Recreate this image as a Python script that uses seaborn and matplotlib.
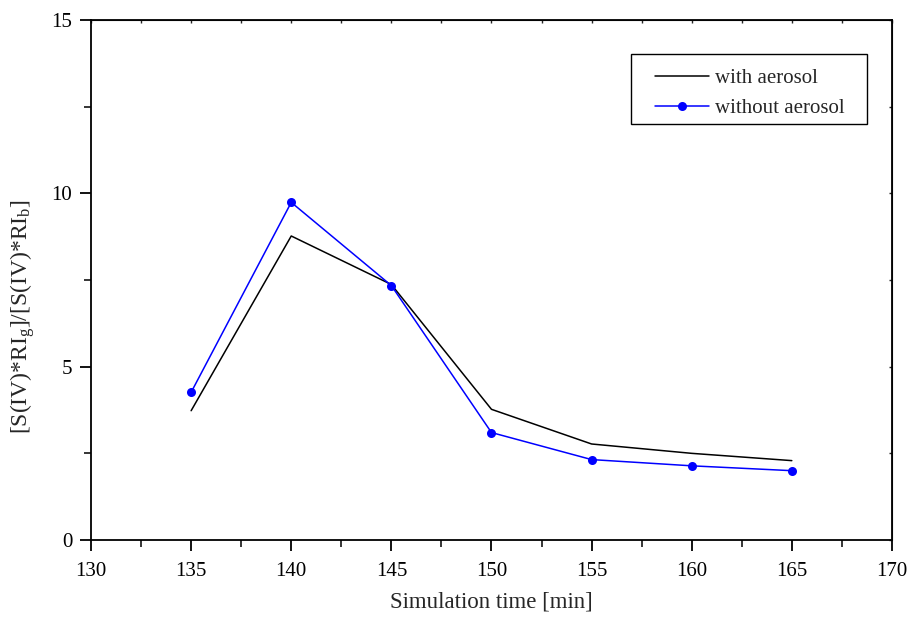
import numpy as np
import pandas as pd
import matplotlib
matplotlib.use('Agg')
import matplotlib.pyplot as plt
import matplotlib.patches as patches
import seaborn as sns
from matplotlib.ticker import MultipleLocator

# dados
tempo = [135, 140, 145, 150, 155, 160, 165]
com_aerossol = [3.73, 8.77, 7.37, 3.77, 2.77, 2.50, 2.29]
sem_aerossol = [4.26, 9.74, 7.34, 3.10, 2.32, 2.14, 2.00]

sns.set_style('ticks')
plt.rcParams['font.family'] = ['Liberation Serif', 'DejaVu Serif']
plt.rcParams['mathtext.fontset'] = 'custom'
plt.rcParams['mathtext.rm'] = 'Liberation Serif'
plt.rcParams['mathtext.it'] = 'Liberation Serif:italic'

fig = plt.figure(figsize=(9.12, 6.18), dpi=100)
ax = fig.add_axes([0.0998, 0.1262, 0.8782, 0.8414])

df = pd.DataFrame({'t': tempo, 'com': com_aerossol, 'sem': sem_aerossol})
sns.lineplot(data=df, x='t', y='com', ax=ax, color='black', lw=1.1,
             label='with aerosol')
sns.lineplot(data=df, x='t', y='sem', ax=ax, color='#0000ff', lw=1.1,
             marker='o', markersize=6.5, markeredgewidth=0, label='without aerosol')

ax.set_xlim(130, 170)
ax.set_ylim(0, 15)
ax.xaxis.set_major_locator(MultipleLocator(5))
ax.xaxis.set_minor_locator(MultipleLocator(2.5))
ax.yaxis.set_major_locator(MultipleLocator(5))
ax.yaxis.set_minor_locator(MultipleLocator(2.5))
ax.tick_params(which='major', direction='out', length=8, width=1.3, labelsize=15, colors='black')
ax.tick_params(which='minor', direction='out', length=5, width=1.3)
ax.tick_params(axis='x', which='major', pad=7.5)
ax.tick_params(axis='y', which='major', pad=5.5)

for s in ax.spines.values():
    s.set_visible(True)
    s.set_linewidth(1.3)
    s.set_color('black')

# ticks pequenos para dentro no topo e a direita
top = ax.secondary_xaxis('top')
top.xaxis.set_major_locator(MultipleLocator(5))
top.xaxis.set_minor_locator(MultipleLocator(2.5))
top.tick_params(which='both', direction='in', length=2, width=1, labeltop=False)
right = ax.secondary_yaxis('right')
right.yaxis.set_major_locator(MultipleLocator(5))
right.yaxis.set_minor_locator(MultipleLocator(2.5))
right.tick_params(which='both', direction='in', length=2, width=1, labelright=False)

ax.set_xlabel('Simulation time [min]', fontsize=16.5, labelpad=8)
ax.set_ylabel(r'[S(IV)*RI$_{\mathrm{g}}$]/[S(IV)*RI$_{\mathrm{b}}$]', fontsize=17)
ax.yaxis.set_label_coords(-0.068, 0.43)

# legenda sem moldura + caixa desenhada a parte (mais larga que alta)
leg = ax.legend(loc='upper left', bbox_to_anchor=(0.704, 0.907), fontsize=15,
                frameon=False, handlelength=2.6, borderpad=0, labelspacing=0.52,
                handletextpad=0.3, borderaxespad=0)
ax.add_patch(patches.Rectangle((0.674, 0.8), 0.295, 0.135, transform=ax.transAxes,
                               fill=False, edgecolor='black', lw=1.0, zorder=5))

fig.savefig('out.png', dpi=100)
